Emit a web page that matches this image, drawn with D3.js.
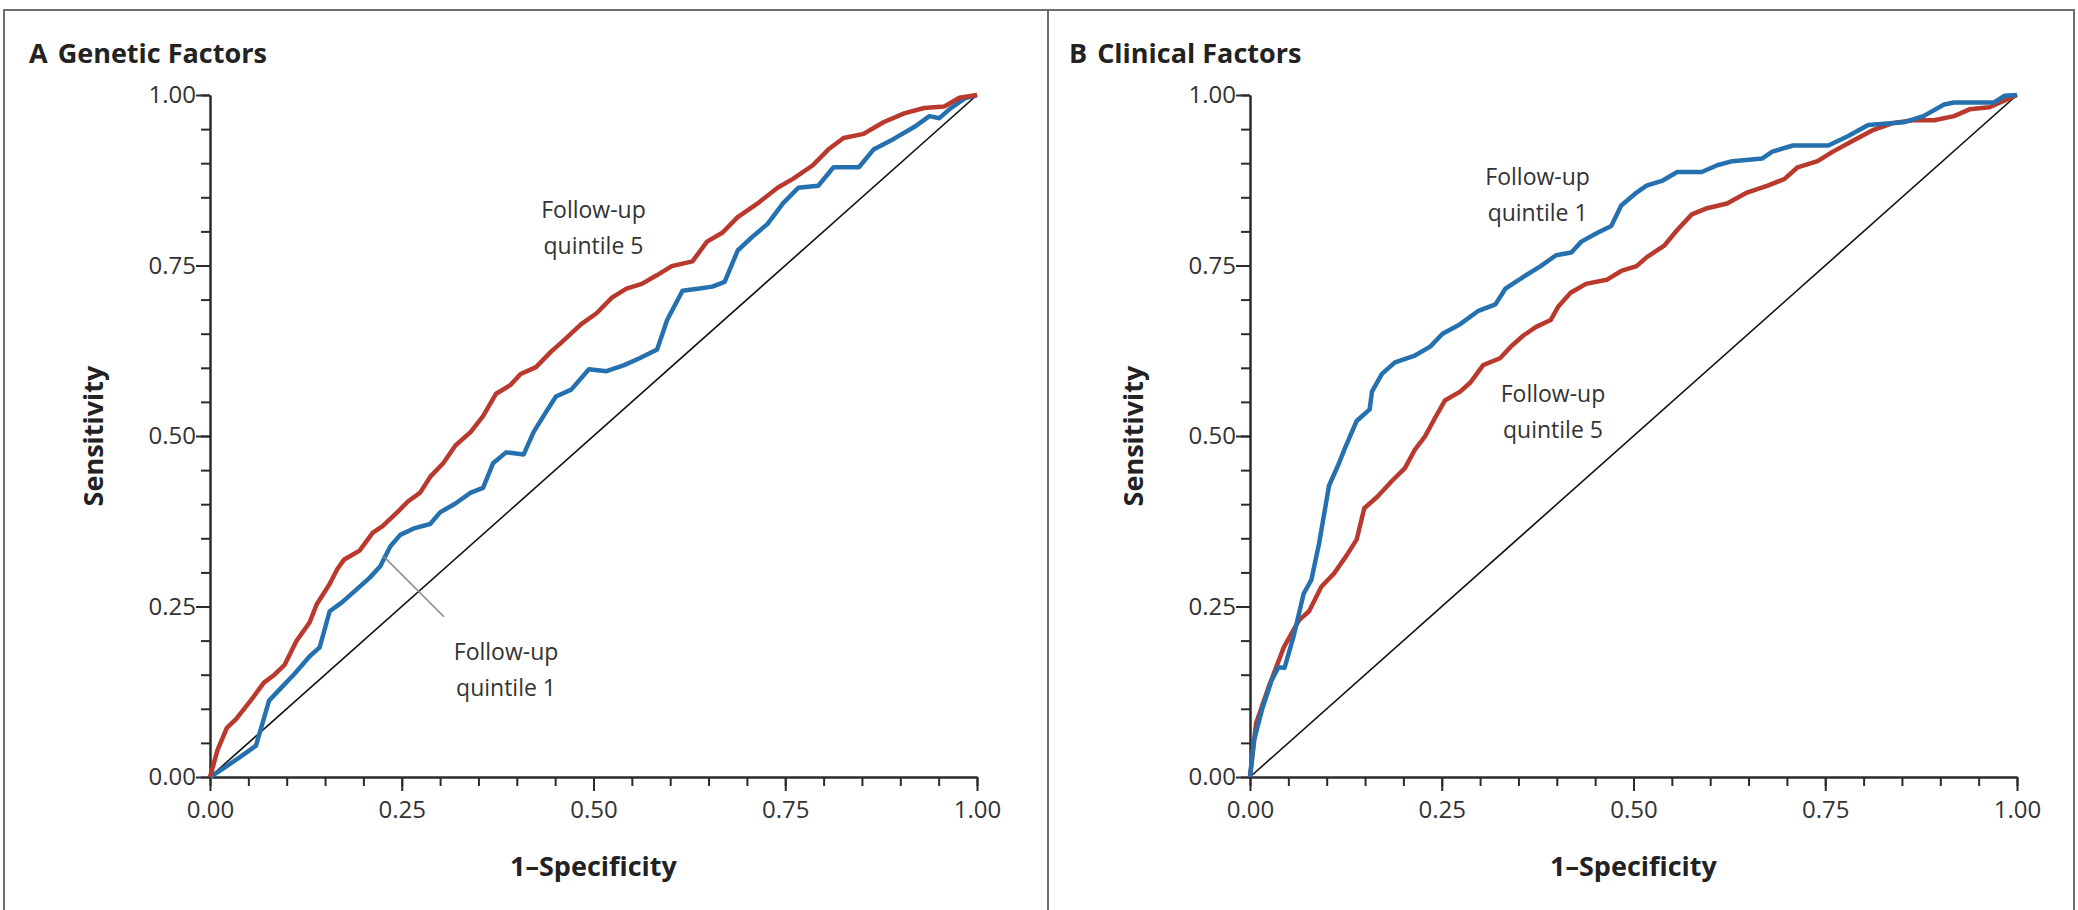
<!DOCTYPE html>
<meta charset="utf-8">
<style>
  body { margin: 0; background: #fff; }
  svg { display: block; }
  .frame { fill: none; stroke: #6e6e6e; stroke-width: 2px; }
  .axis path, .axis line { stroke: #2b2b2b; stroke-width: 2px; }
  .axis text { font-family: "Open Sans", sans-serif; font-size: 24px; fill: #333; }
  .title { font-family: "Open Sans", sans-serif; font-weight: 700; font-size: 27px; fill: #222; }
  .axtitle { font-family: "Open Sans", sans-serif; font-weight: 700; font-size: 27px; fill: #222; }
  .note { font-family: "Open Sans", sans-serif; font-size: 23px; fill: #333; }
  .roc { fill: none; stroke-width: 4.5px; stroke-linejoin: round; }
  .diag { stroke: #111; stroke-width: 1.6px; }
</style>
<svg width="2078" height="910"></svg>
<script src="https://d3js.org/d3.v7.min.js"></script>
<script>
  // axis ticks
  var majorTicks = [0, 0.25, 0.5, 0.75, 1];
  var minorTicks = d3.range(0, 21).map(function(i) { return i / 20; });

  // ROC curves, [1-specificity, sensitivity]
  var geneticQ5 = [[0,0],[0.01,0.04],[0.022,0.072],[0.034,0.085],[0.057,0.118],[0.07,0.138],[0.084,0.15],
    [0.097,0.164],[0.113,0.2],[0.13,0.227],[0.139,0.253],[0.156,0.283],[0.166,0.305],[0.175,0.319],
    [0.195,0.332],[0.212,0.358],[0.225,0.368],[0.244,0.388],[0.258,0.404],[0.274,0.417],[0.287,0.44],
    [0.304,0.46],[0.32,0.486],[0.34,0.506],[0.356,0.529],[0.373,0.562],[0.392,0.575],[0.405,0.591],
    [0.425,0.601],[0.445,0.624],[0.458,0.637],[0.484,0.664],[0.504,0.68],[0.524,0.703],[0.543,0.716],
    [0.563,0.723],[0.583,0.736],[0.602,0.749],[0.629,0.756],[0.648,0.785],[0.668,0.798],[0.688,0.821],
    [0.714,0.841],[0.74,0.864],[0.76,0.877],[0.786,0.897],[0.806,0.92],[0.826,0.937],[0.852,0.943],
    [0.878,0.96],[0.905,0.973],[0.931,0.981],[0.957,0.983],[0.977,0.996],[1,1]];

  var geneticQ1 = [[0,0],[0.018,0.013],[0.04,0.03],[0.06,0.046],[0.077,0.112],[0.093,0.131],[0.11,0.151],
    [0.13,0.177],[0.143,0.19],[0.156,0.243],[0.172,0.256],[0.189,0.273],[0.208,0.292],[0.222,0.309],
    [0.235,0.338],[0.248,0.355],[0.267,0.365],[0.287,0.371],[0.3,0.388],[0.32,0.401],[0.34,0.417],
    [0.356,0.424],[0.369,0.46],[0.386,0.476],[0.409,0.473],[0.422,0.506],[0.438,0.535],[0.451,0.558],
    [0.471,0.568],[0.494,0.598],[0.517,0.595],[0.54,0.604],[0.56,0.614],[0.583,0.627],[0.596,0.67],
    [0.616,0.713],[0.636,0.716],[0.655,0.719],[0.671,0.726],[0.688,0.772],[0.707,0.792],[0.727,0.811],
    [0.747,0.841],[0.767,0.864],[0.793,0.867],[0.813,0.894],[0.846,0.894],[0.865,0.92],[0.892,0.936],
    [0.918,0.953],[0.938,0.969],[0.951,0.966],[0.965,0.98],[0.984,0.995],[1,1]];

  var clinicalQ1 = [[0,0],[0.005,0.053],[0.016,0.1],[0.028,0.141],[0.037,0.161],[0.045,0.16],[0.057,0.207],
    [0.07,0.269],[0.08,0.289],[0.09,0.342],[0.103,0.427],[0.116,0.46],[0.123,0.48],[0.139,0.522],
    [0.156,0.539],[0.159,0.565],[0.172,0.591],[0.189,0.608],[0.215,0.618],[0.235,0.631],[0.251,0.65],
    [0.274,0.664],[0.297,0.683],[0.32,0.693],[0.333,0.716],[0.356,0.733],[0.379,0.749],[0.399,0.765],
    [0.419,0.769],[0.432,0.785],[0.453,0.798],[0.471,0.808],[0.484,0.838],[0.504,0.857],[0.517,0.867],
    [0.537,0.874],[0.557,0.887],[0.589,0.887],[0.609,0.897],[0.629,0.903],[0.668,0.907],[0.681,0.917],
    [0.708,0.926],[0.754,0.926],[0.78,0.94],[0.806,0.956],[0.852,0.96],[0.878,0.969],[0.905,0.986],
    [0.918,0.989],[0.97,0.989],[0.984,0.999],[1,1]];

  var clinicalQ5 = [[0,0],[0.008,0.079],[0.024,0.131],[0.044,0.19],[0.064,0.23],[0.077,0.243],[0.093,0.279],
    [0.11,0.299],[0.126,0.325],[0.139,0.348],[0.149,0.394],[0.166,0.411],[0.185,0.434],[0.202,0.453],
    [0.215,0.48],[0.228,0.499],[0.241,0.526],[0.254,0.552],[0.274,0.565],[0.287,0.578],[0.304,0.604],
    [0.326,0.614],[0.34,0.631],[0.356,0.647],[0.373,0.66],[0.392,0.67],[0.402,0.69],[0.418,0.71],
    [0.438,0.723],[0.465,0.729],[0.484,0.742],[0.504,0.749],[0.517,0.762],[0.54,0.779],[0.557,0.802],
    [0.576,0.825],[0.596,0.834],[0.622,0.841],[0.648,0.857],[0.675,0.867],[0.697,0.877],[0.714,0.894],
    [0.74,0.903],[0.76,0.917],[0.786,0.933],[0.813,0.949],[0.839,0.959],[0.865,0.963],[0.892,0.963],
    [0.918,0.969],[0.938,0.979],[0.964,0.982],[0.984,0.992],[1,1]];

  var panels = [
    { letter: "A", name: "Genetic Factors", left: 210, q1: geneticQ1, q5: geneticQ5,
      notes: [{ text: ["Follow-up", "quintile 5"], at: [0.5, 0.82] },
              { text: ["Follow-up", "quintile 1"], at: [0.386, 0.172] }],
      pointer: [[0.225, 0.325], [0.305, 0.235]] },
    { letter: "B", name: "Clinical Factors", left: 1250, q1: clinicalQ1, q5: clinicalQ5,
      notes: [{ text: ["Follow-up", "quintile 1"], at: [0.375, 0.868] },
              { text: ["Follow-up", "quintile 5"], at: [0.395, 0.55] }],
      pointer: null }
  ];

  var red = "#b9392c", blue = "#2571b0";
  var svg = d3.select("svg");
  var W = 767, plotTop = 95, plotBottom = 777;

  svg.append("rect").attr("class", "frame")
    .attr("x", 4).attr("y", 10).attr("width", 2070).attr("height", 902);
  svg.append("line").attr("class", "frame")
    .attr("x1", 1048).attr("x2", 1048).attr("y1", 10).attr("y2", 910);

  panels.forEach(function(p) {
    var x = d3.scaleLinear().domain([0, 1]).range([p.left, p.left + W]);
    var y = d3.scaleLinear().domain([0, 1]).range([plotBottom, plotTop]);
    var g = svg.append("g");

    var t = g.append("text").attr("class", "title")
      .attr("x", p.left - 181).attr("y", 63);
    t.append("tspan").text(p.letter);
    t.append("tspan").attr("dx", 10).text(p.name);

    // minor ticks
    g.append("g").attr("class", "axis")
      .attr("transform", "translate(0," + plotBottom + ")")
      .call(d3.axisBottom(x).tickValues(minorTicks).tickSize(9).tickSizeOuter(0).tickFormat(""));
    g.append("g").attr("class", "axis")
      .attr("transform", "translate(" + p.left + ",0)")
      .call(d3.axisLeft(y).tickValues(minorTicks).tickSize(9).tickSizeOuter(0).tickFormat(""));
    // major ticks
    g.append("g").attr("class", "axis")
      .attr("transform", "translate(0," + plotBottom + ")")
      .call(d3.axisBottom(x).tickValues(majorTicks).tickSize(14).tickSizeOuter(0)
        .tickPadding(10).tickFormat(d3.format(".2f")));
    g.append("g").attr("class", "axis")
      .attr("transform", "translate(" + p.left + ",0)")
      .call(d3.axisLeft(y).tickValues(majorTicks).tickSize(14).tickSizeOuter(0)
        .tickPadding(0).tickFormat(d3.format(".2f")));

    g.append("text").attr("class", "axtitle")
      .attr("text-anchor", "middle")
      .attr("x", p.left + W / 2).attr("y", 876)
      .text("1\u2013Specificity");
    g.append("text").attr("class", "axtitle")
      .attr("text-anchor", "middle")
      .attr("transform", "translate(" + (p.left - 107) + "," + ((plotTop + plotBottom) / 2) + ") rotate(-90)")
      .text("Sensitivity");

    g.append("line").attr("class", "diag")
      .attr("x1", x(0)).attr("y1", y(0)).attr("x2", x(1)).attr("y2", y(1));

    var line = d3.line().x(function(d) { return x(d[0]); }).y(function(d) { return y(d[1]); });
    var series = p.letter === "A" ? [[p.q1, blue], [p.q5, red]] : [[p.q5, red], [p.q1, blue]];
    series.forEach(function(s) {
      g.append("path").attr("class", "roc").attr("stroke", s[1]).attr("d", line(s[0]));
    });

    if (p.pointer) {
      g.append("line")
        .attr("x1", x(p.pointer[0][0])).attr("y1", y(p.pointer[0][1]))
        .attr("x2", x(p.pointer[1][0])).attr("y2", y(p.pointer[1][1]))
        .attr("stroke", "#8a8a8a").attr("stroke-width", 1.5);
    }

    p.notes.forEach(function(n) {
      var tx = g.append("text").attr("class", "note").attr("text-anchor", "middle");
      n.text.forEach(function(s, i) {
        tx.append("tspan").attr("x", x(n.at[0])).attr("y", y(n.at[1]) + i * 36).text(s);
      });
    });
  });
</script>
